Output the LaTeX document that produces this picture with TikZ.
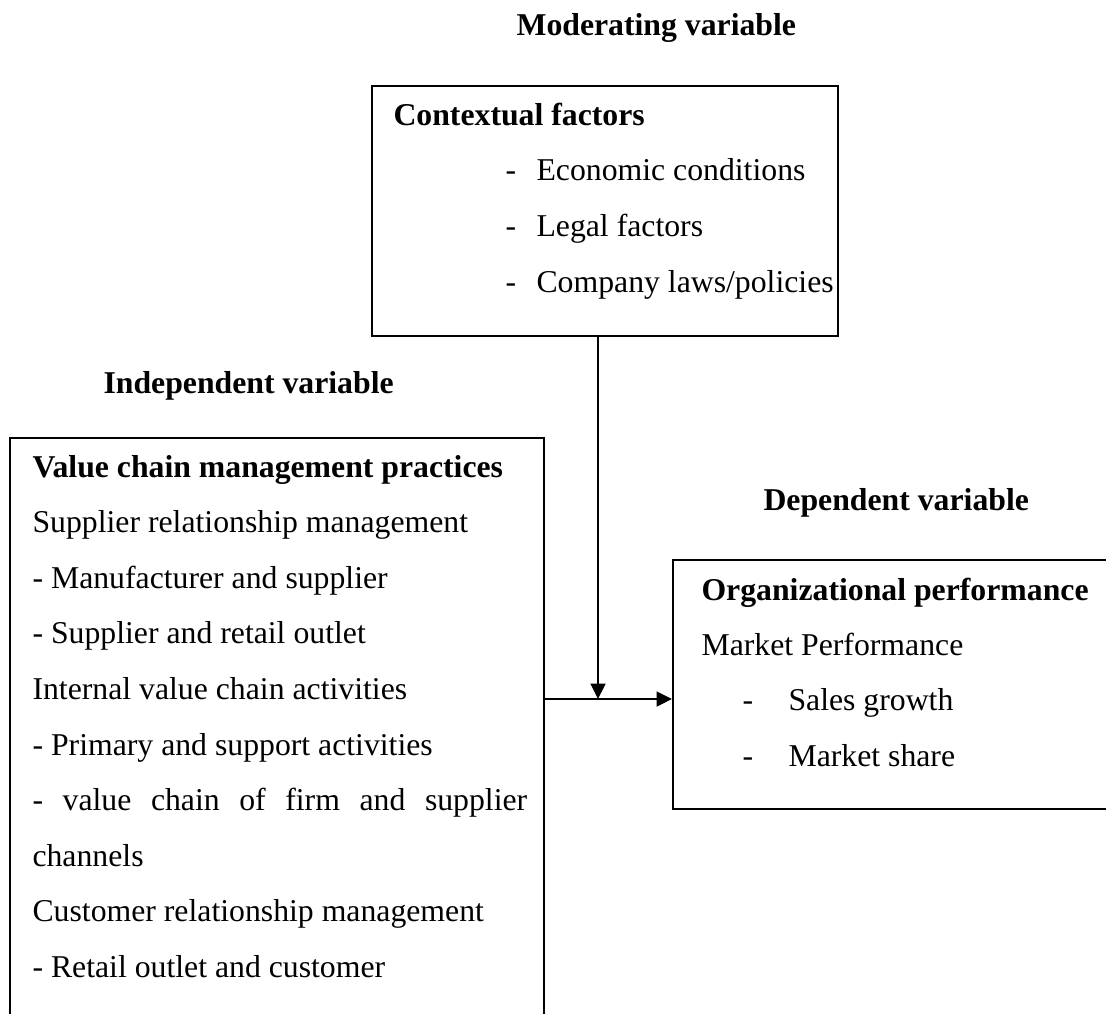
\documentclass[tikz,border=0pt]{standalone}
\usepackage{fontspec}
\setmainfont{Liberation Serif}
\usetikzlibrary{positioning,arrows.meta,calc}

\begin{document}
\begin{tikzpicture}[x=0.378pt,y=-0.378pt,
  >={Triangle[length=5.8pt,width=5.6pt]},
  box/.style={draw,line width=0.75pt,anchor=north west,inner sep=0pt},
  txt/.style={anchor=base west,inner sep=0pt,font=\fontsize{12}{14}\selectfont},
  hd/.style={txt,font=\fontsize{12}{14}\selectfont\bfseries},
  link/.style={->,line width=0.75pt}]
\useasboundingbox (0,0) rectangle (1106,1013);
\clip (0,0) rectangle (1106,1013);

% variable captions
\node[hd] (modcap) at (516,35) {Moderating variable};
\node[hd] (indcap) at (103,393) {Independent variable};
\node[hd] (depcap) at (763,510) {Dependent variable};

% moderating box
\node[box,minimum width=176.1pt,minimum height=94.5pt] (ctx) at (371,85) {};
\node[hd] (ctx-t) at (393,125) {Contextual factors};
\foreach \i/\t in {1/Economic conditions,2/Legal factors,3/{Company laws/policies}}{
  \node[txt] (ctx-d\i) at (505,124+56*\i) {-};
  \node[txt] (ctx-\i) at (536,124+56*\i) {\t};
}

% independent box (runs on below the page)
\node[box,minimum width=201.9pt,minimum height=245pt] (vcm) at (9,437) {};
\node[hd] (vcm-0) at (32,477) {Value chain management practices};
\foreach \i/\t in {1/Supplier relationship management,2/- Manufacturer and supplier,
  3/- Supplier and retail outlet,4/Internal value chain activities,
  5/- Primary and support activities,7/channels,
  8/Customer relationship management,9/- Retail outlet and customer}
  \node[txt] (vcm-\i) at (32,477+55.6*\i) {\t};
\node[txt] (vcm-6) at (32,477+55.6*6)
  {\makebox[187pt][s]{- value chain of firm and supplier}};

% dependent box (runs on past the right edge)
\node[box,minimum width=189pt,minimum height=94.1pt] (org) at (672,559) {};
\node[hd] (org-t) at (701,600) {Organizational performance};
\node[txt] (org-0) at (701,655) {Market Performance};
\foreach \i/\t in {1/Sales growth,2/Market share}{
  \node[txt] (org-d\i) at (742,654+56*\i) {-};
  \node[txt] (org-\i) at (788,654+56*\i) {\t};
}

% arrows
\coordinate (join) at (598,699);
\draw[link] (ctx.south -| join) -- (join);
\draw[link] (vcm.east |- join) -- (org.west |- join);
\end{tikzpicture}
\end{document}
